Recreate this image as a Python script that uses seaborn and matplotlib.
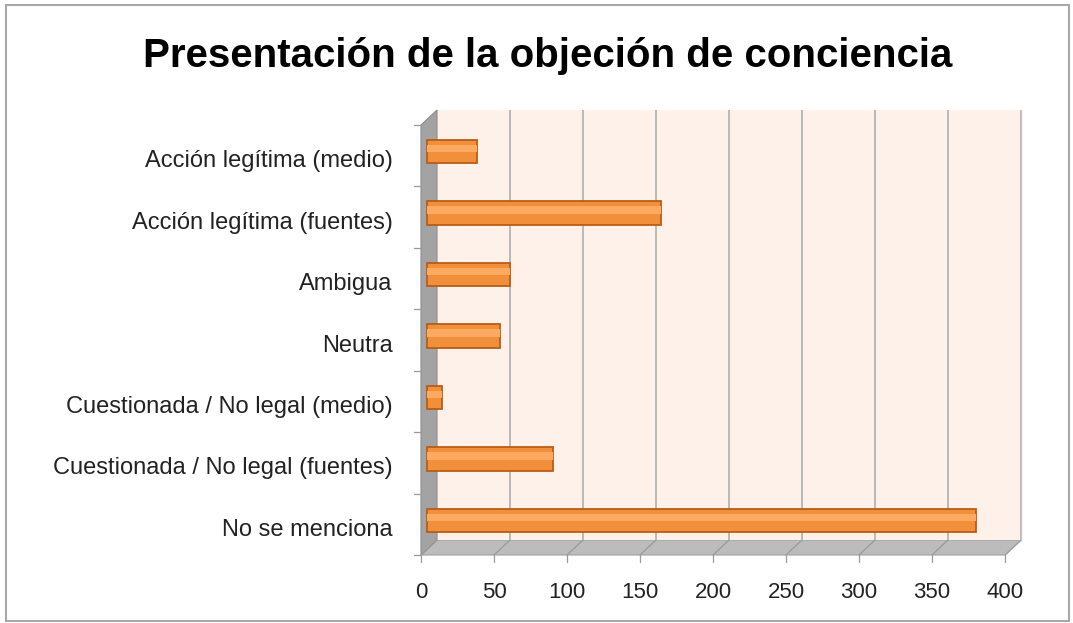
import pandas as pd
import numpy as np
import matplotlib
matplotlib.use('Agg')
import matplotlib.pyplot as plt
import matplotlib.transforms as mtransforms
from matplotlib.patches import Polygon, Rectangle
import seaborn as sns

categorias = ['Acción legítima (medio)', 'Acción legítima (fuentes)', 'Ambigua',
              'Neutra', 'Cuestionada / No legal (medio)',
              'Cuestionada / No legal (fuentes)', 'No se menciona']
valores = [34, 160, 57, 50, 10, 86, 376]
ticks_x = [0, 50, 100, 150, 200, 250, 300, 350, 400]

df = pd.DataFrame({'categoria': categorias, 'valor': valores})

sns.set_style('white')
plt.rcParams['font.family'] = ['Liberation Sans', 'DejaVu Sans']

W, H = 1073, 623
fig = plt.figure(figsize=(W / 100, H / 100), dpi=100)

# back wall of the pseudo 3d chart
x0, x1, ytop, ybot = 437, 1021, 110, 540
dx, dy = 16, 15
ax = fig.add_axes([x0 / W, 1 - ybot / H, (x1 - x0) / W, (ybot - ytop) / H])
ax.set_facecolor('#fdf1ea')


def off(px, py):
    return mtransforms.ScaledTranslation(px / 100, py / 100, fig.dpi_scale_trans)


fx = lambda p: p / W
fy = lambda p: 1 - p / H

# floor and left wall (behind the axes)
floor = Polygon([(fx(x0), fy(ybot)), (fx(x1), fy(ybot)), (fx(x1 - dx), fy(ybot + dy)),
                 (fx(x0 - dx), fy(ybot + dy))], closed=True, transform=fig.transFigure,
                facecolor='#bcbcbc', edgecolor='#a0a0a0', lw=0.8, zorder=-2)
wall = Polygon([(fx(x0), fy(ytop)), (fx(x0), fy(ybot)), (fx(x0 - dx), fy(ybot + dy)),
                (fx(x0 - dx), fy(ytop + dy))], closed=True, transform=fig.transFigure,
               facecolor='#a3a3a3', edgecolor='#8c8c8c', lw=0.8, zorder=-2)
fig.patches.extend([floor, wall])
fig.add_artist(plt.Line2D([fx(x1), fx(x1)], [fy(ytop), fy(ybot)], color='#c8c8c8', lw=1, zorder=-1))
fig.add_artist(plt.Line2D([fx(x1), fx(x1 - dx)], [fy(ybot), fy(ybot + dy)], color='#c8c8c8', lw=1, zorder=-1))

# floor ticks and small tick marks
n = len(categorias)
for t in ticks_x:
    xp = x0 + (x1 - x0) * t / 400
    fig.add_artist(plt.Line2D([fx(xp), fx(xp - dx)], [fy(ybot), fy(ybot + dy)],
                              color='#9a9a9a', lw=0.9, zorder=-1))
    fig.add_artist(plt.Line2D([fx(xp - dx), fx(xp - dx)], [fy(ybot + dy), fy(ybot + dy + 7)],
                              color='#9a9a9a', lw=0.9, zorder=-1))
for k in range(n + 1):
    yp = ytop + (ybot - ytop) * k / n + dy
    fig.add_artist(plt.Line2D([fx(x0 - dx - 7), fx(x0 - dx)], [fy(yp), fy(yp)],
                              color='#9a9a9a', lw=0.9, zorder=-1))

ax.set_zorder(1)

# bars (cylinders)
sns.barplot(data=df, x='valor', y='categoria', orient='h', color='#f28f3b', saturation=1,
            width=0.38, edgecolor='#b85d18', linewidth=1.3, ax=ax, zorder=3)
for p in ax.patches[:n]:
    p.set_transform(ax.transData + off(-10, -11))
    p.set_clip_on(False)
sns.barplot(data=df, x='valor', y='categoria', orient='h', color='#fcaa62', saturation=1,
            width=0.12, linewidth=0, ax=ax, zorder=4)
for p in ax.patches[n:]:
    p.set_transform(ax.transData + off(-10, -8))
    p.set_clip_on(False)

ax.set_xlim(0, 400)
ax.set_ylim(n - 0.5, -0.5)
ax.set_xticks(ticks_x)
ax.set_xticklabels([str(t) for t in ticks_x])
ax.xaxis.grid(True, color='#b0b0b0', lw=1.2)
ax.set_axisbelow(True)
for s in ax.spines.values():
    s.set_visible(False)
ax.set_xlabel('')
ax.set_ylabel('')

ax.tick_params(axis='x', length=0, labelsize=16, pad=30, colors='#222222')
ax.tick_params(axis='y', length=0, labelsize=17, pad=32, colors='#222222')
for lab in ax.get_xticklabels():
    lab.set_transform(lab.get_transform() + off(-dx, 0))
for lab in ax.get_yticklabels():
    lab.set_transform(lab.get_transform() + off(0, -18))

fig.suptitle('Presentación de la objeción de conciencia', x=0.51, y=0.94,
             fontsize=29, fontweight='bold', color='black')

fig.patches.append(Rectangle((0.006, 0.004), 0.99, 0.988, transform=fig.transFigure,
                             fill=False, edgecolor='#a8a8a8', lw=1.5))

plt.savefig('out.png', dpi=100)
plt.close()
